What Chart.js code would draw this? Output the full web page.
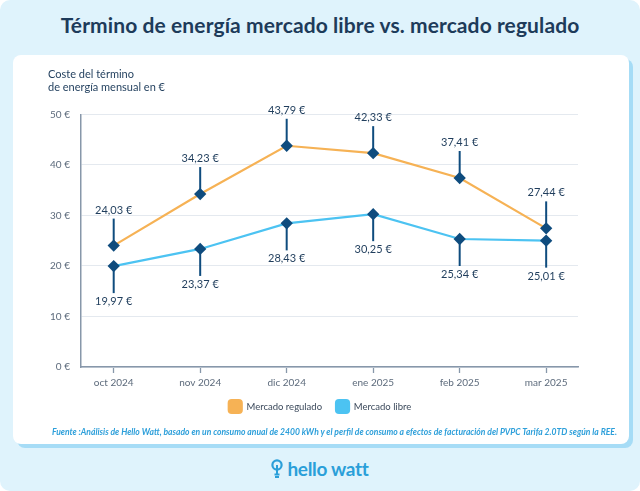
<!DOCTYPE html>
<html>
<head>
<meta charset="utf-8">
<script src="https://cdn.jsdelivr.net/npm/chart.js@4"></script>
<style>
  html, body { margin: 0; padding: 0; background: #fff; }
  body { width: 640px; height: 491px; overflow: hidden; font-family: Lato, sans-serif; }
  #frame {
    position: absolute; left: 0; top: 0; width: 640px; height: 491px;
    background: #dff3fc; border-radius: 10px;
  }
  #title {
    position: absolute; left: 0; top: 12px; width: 640px; text-align: center;
    font-weight: bold; font-size: 21px; color: #1d3b5a; letter-spacing: 0.1px;
  }
  #card {
    position: absolute; left: 13px; top: 55px; width: 616px; height: 389px;
    background: #fff; border-radius: 8px; box-shadow: 4px 4px 0 #a6dcf6;
  }
  #wrap { position: absolute; left: 0; top: 5px; width: 616px; height: 376px; }
  #source {
    position: absolute; right: 12px; top: 372px; font-size: 8.55px;
    font-style: italic; font-weight: bold; color: #2d9fda; white-space: nowrap;
  }
  #logo {
    position: absolute; left: 0; top: 457px; width: 640px; text-align: center;
    font-weight: bold; font-size: 19px; color: #2a9fd9; letter-spacing: -0.3px;
  }
  #logo svg { vertical-align: -2px; margin-right: 4px; }
</style>
</head>
<body>
<div id="frame">
  <div id="title">Término de energía mercado libre vs. mercado regulado</div>
  <div id="card">
    <div id="wrap"><canvas id="chart"></canvas></div>
    <div id="source">Fuente :Análisis de Hello Watt, basado en un consumo anual de 2400 kWh y el perfil de consumo a efectos de facturación del PVPC Tarifa 2.0TD según la REE.</div>
  </div>
  <div id="logo"><svg width="12" height="19" viewBox="0 0 12 19"><circle cx="6" cy="6" r="4.6" fill="none" stroke="#2a9fd9" stroke-width="2.2"/><path d="M6 6 L6 15 M3.5 15.5 L8.5 15.5 M4 18 L8 18" stroke="#2a9fd9" stroke-width="2" fill="none"/></svg>hello watt</div>
</div>
<script>
// Meses y costes (€) del término de energía
const meses = ['oct 2024', 'nov 2024', 'dic 2024', 'ene 2025', 'feb 2025', 'mar 2025'];
const mercadoRegulado = [24.03, 34.23, 43.79, 42.33, 37.41, 27.44];
const mercadoLibre = [19.97, 23.37, 28.43, 30.25, 25.34, 25.01];
const yTicks = [0, 10, 20, 30, 40, 50];

const navy = '#0f4c7e';
const fmt = v => v.toFixed(2).replace('.', ',') + ' €';

// etiquetas con línea vertical: regulado arriba, libre abajo
const calloutPlugin = {
  id: 'callouts',
  afterDatasetsDraw(chart) {
    const ctx = chart.ctx;
    chart.data.datasets.forEach((ds, di) => {
      const dir = di === 0 ? -1 : 1;
      chart.getDatasetMeta(di).data.forEach((pt, i) => {
        const v = ds.data[i].y;
        ctx.save();
        ctx.strokeStyle = navy;
        ctx.lineWidth = 2;
        ctx.beginPath();
        ctx.moveTo(pt.x, pt.y);
        ctx.lineTo(pt.x, pt.y + dir * 27);
        ctx.stroke();
        ctx.fillStyle = '#1f3d5c';
        ctx.font = '11px Lato';
        ctx.textAlign = 'center';
        ctx.textBaseline = 'middle';
        ctx.fillText(fmt(v), pt.x, pt.y + dir * 35.5);
        ctx.restore();
      });
    });
  }
};

// la leyenda va centrada en la tarjeta, un poco más arriba
const legendShift = {
  id: 'legendShift',
  afterLayout(chart) {
    const lg = chart.legend;
    lg.left += 7; lg.right += 7;
    lg.top -= 7; lg.bottom -= 7;
  }
};

new Chart(document.getElementById('chart').getContext('2d'), {
  type: 'line',
  data: {
    datasets: [
      {
        label: 'Mercado regulado',
        data: mercadoRegulado.map((v, i) => ({ x: i, y: v })),
        borderColor: '#f6b255',
        backgroundColor: '#f6b255',
        borderWidth: 2.2,
        tension: 0,
        pointStyle: 'rectRot',
        pointRadius: 4.6,
        pointBackgroundColor: navy,
        pointBorderColor: navy
      },
      {
        label: 'Mercado libre',
        data: mercadoLibre.map((v, i) => ({ x: i, y: v })),
        borderColor: '#4cc3f2',
        backgroundColor: '#4cc3f2',
        borderWidth: 2.2,
        tension: 0,
        pointStyle: 'rectRot',
        pointRadius: 4.6,
        pointBackgroundColor: navy,
        pointBorderColor: navy
      }
    ]
  },
  options: {
    responsive: true,
    maintainAspectRatio: false,
    animation: false,
    layout: { padding: { left: 35, right: 51, top: 0, bottom: 6 } },
    scales: {
      x: {
        type: 'linear',
        min: -0.378,
        max: 5.368,
        afterBuildTicks: s => { s.ticks = meses.map((m, i) => ({ value: i })); },
        ticks: {
          callback: v => meses[v],
          color: '#5d6b7c',
          font: { family: 'Lato', size: 10 },
          padding: 4,
          maxRotation: 0
        },
        grid: { drawOnChartArea: false, drawTicks: true, tickLength: 6, color: '#8797aa', tickWidth: 1.3 },
        border: { color: '#8797aa', width: 1.5 }
      },
      y: {
        min: 0,
        max: 50,
        afterBuildTicks: s => { s.ticks = yTicks.map(v => ({ value: v })); },
        afterFit: s => { s.width = 33; },
        ticks: {
          callback: v => v + ' €',
          color: '#5d6b7c',
          font: { family: 'Lato', size: 10 },
          padding: 11
        },
        grid: { color: '#e4e9ef', drawTicks: false },
        border: { color: '#8797aa', width: 1.5 }
      }
    },
    plugins: {
      title: {
        display: true,
        text: ['Coste del término', 'de energía mensual en €'],
        align: 'start',
        color: '#1f3d5c',
        font: { family: 'Lato', size: 11, weight: 'normal' },
        lineHeight: 1.45,
        padding: { top: 8, bottom: 20 }
      },
      legend: {
        position: 'bottom',
        labels: {
          color: '#3c4a5c',
          font: { family: 'Lato', size: 9.5 },
          boxWidth: 13,
          boxHeight: 13,
          useBorderRadius: true,
          borderRadius: 3,
          padding: 14
        }
      },
      tooltip: { enabled: false }
    }
  },
  plugins: [calloutPlugin, legendShift]
});
</script>
</body>
</html>
